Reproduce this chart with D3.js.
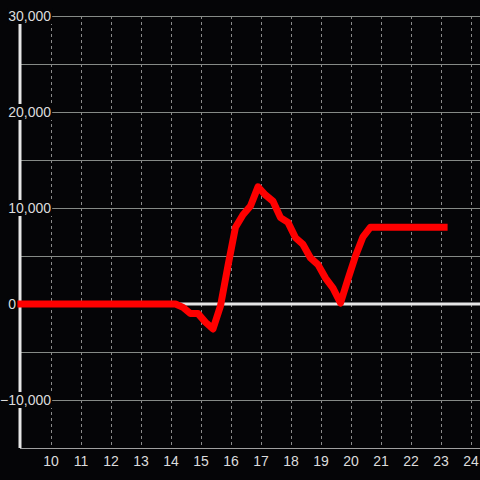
<!DOCTYPE html>
<html>
<head>
<meta charset="utf-8">
<script src="https://cdn.jsdelivr.net/npm/d3@7"></script>
<style>
  html, body { margin: 0; padding: 0; background: #050507; }
  svg { display: block; }
</style>
</head>
<body>
<svg id="chart"></svg>
<script>
// Data
const hours = [8.88, 14.15, 14.4, 14.65, 14.9, 15.15, 15.4, 15.65, 15.9, 16.15, 16.4, 16.65,
    16.9, 17.15, 17.4, 17.65, 17.9, 18.15, 18.4, 18.65, 18.9, 19.15, 19.4, 19.65,
    19.9, 20.15, 20.4, 20.65, 23.22];
const values = [0, 0, -350, -1000, -1000, -1900, -2600, -200, 4000, 8000, 9300, 10200,
    12200, 11350, 10700, 9000, 8500, 6900, 6200, 4800, 4100, 2700, 1660, 100,
    2600, 5000, 7000, 8000, 8000];
const xTicks = [10, 11, 12, 13, 14, 15, 16, 17, 18, 19, 20, 21, 22, 23, 24];
const yGrid = [-10000, -5000, 5000, 10000, 15000, 20000, 25000, 30000];
const yLabels = [-10000, 0, 10000, 20000, 30000];

const width = 480, height = 480;
const left = 20, bottom = 448;

const svg = d3.select("#chart")
    .attr("width", width)
    .attr("height", height)
    .style("font-family", "'Liberation Sans', Arial, sans-serif");

svg.append("rect")
    .attr("width", width)
    .attr("height", height)
    .attr("fill", "#050507");

const x = d3.scaleLinear().domain([9, 24]).range([21, 471]);
const y = d3.scaleLinear().domain([-15000, 30000]).range([bottom, 16]);

// vertical dashed grid
svg.append("g")
    .selectAll("line")
    .data(xTicks)
    .join("line")
    .attr("x1", d => x(d) + 0.5)
    .attr("x2", d => x(d) + 0.5)
    .attr("y1", y(30000))
    .attr("y2", bottom)
    .attr("stroke", "#8a8a8a")
    .attr("stroke-width", 1)
    .attr("stroke-dasharray", "3,3");

// horizontal grid
svg.append("g")
    .selectAll("line")
    .data(yGrid)
    .join("line")
    .attr("x1", left)
    .attr("x2", width)
    .attr("y1", d => Math.round(y(d)) + 0.5)
    .attr("y2", d => Math.round(y(d)) + 0.5)
    .attr("stroke", "#868a86")
    .attr("stroke-width", 1);

// x axis line
svg.append("line")
    .attr("x1", left)
    .attr("x2", width)
    .attr("y1", bottom + 0.5)
    .attr("y2", bottom + 0.5)
    .attr("stroke", "#a0a0a0")
    .attr("stroke-width", 1);

// zero line
svg.append("line")
    .attr("x1", left)
    .attr("x2", width)
    .attr("y1", y(0))
    .attr("y2", y(0))
    .attr("stroke", "#e6e6e6")
    .attr("stroke-width", 3);

// y axis line
svg.append("line")
    .attr("x1", left)
    .attr("x2", left)
    .attr("y1", y(30000))
    .attr("y2", bottom)
    .attr("stroke", "#e6e6e6")
    .attr("stroke-width", 3);

// y labels with dark background
const fmt = d3.format(",");
const yl = svg.append("g")
    .selectAll("g")
    .data(yLabels)
    .join("g")
    .attr("transform", d => `translate(${d === 0 ? 16 : 51},${y(d)})`);

yl.append("text")
    .attr("text-anchor", "end")
    .attr("dy", "0.36em")
    .attr("fill", "#dcdcdc")
    .style("font-size", "14px")
    .text(d => fmt(d))
    .each(function () {
        const b = this.getBBox();
        d3.select(this.parentNode).insert("rect", "text")
            .attr("x", b.x - 1)
            .attr("y", -8)
            .attr("width", b.width + 2)
            .attr("height", 16)
            .attr("fill", "#050507");
    });

// series
const line = d3.line()
    .x((d, i) => x(hours[i]))
    .y(d => y(d));

svg.append("path")
    .datum(values)
    .attr("d", line)
    .attr("fill", "none")
    .attr("stroke", "#ff0000")
    .attr("stroke-width", 7)
    .attr("stroke-linejoin", "round")
    .attr("stroke-linecap", "butt");

// x labels
svg.append("g")
    .selectAll("text")
    .data(xTicks)
    .join("text")
    .attr("x", d => x(d))
    .attr("y", 466)
    .attr("text-anchor", "middle")
    .attr("fill", "#dcdcdc")
    .style("font-size", "14px")
    .text(d => d);
</script>
</body>
</html>
